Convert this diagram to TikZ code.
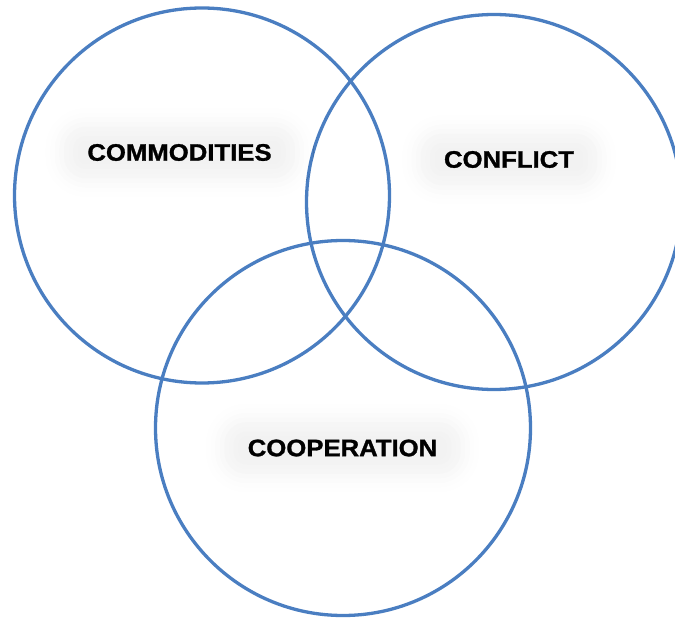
\documentclass[tikz,border=0pt]{standalone}
\usepackage{fontspec}
\setmainfont{Liberation Sans}[BoldFeatures={FakeBold=1.2}]
\usetikzlibrary{shadows.blur}
\definecolor{ringblue}{RGB}{74,126,193}
\begin{document}
\begin{tikzpicture}[x=1pt,y=-1pt,
  ring/.style={circle, draw=ringblue, line width=3.3pt, minimum size=375pt, inner sep=0pt},
  tag/.style={font=\bfseries\fontsize{23.8}{26}\selectfont, xscale=1.08,
    rounded corners=24pt, inner xsep=24pt, inner ysep=20pt,
    blur shadow={shadow xshift=0pt, shadow yshift=0pt, shadow blur radius=16pt,
      shadow opacity=5, shadow scale=1}}]
\useasboundingbox (0,0) rectangle (675,620);
\clip (0,0) rectangle (675,620);

%Rings
\node[ring] (commring) at (202,195.5) {};
\node[ring] (confring) at (494,202) {};
\node[ring] (coopring) at (343,428) {};

%Labels
\node[tag] (comm) at (179.5,152.5) {COMMODITIES};
\node[tag] (conf) at (509,159.5) {CONFLICT};
\node[tag] (coop) at (342.5,448) {COOPERATION};

\end{tikzpicture}
\end{document}
